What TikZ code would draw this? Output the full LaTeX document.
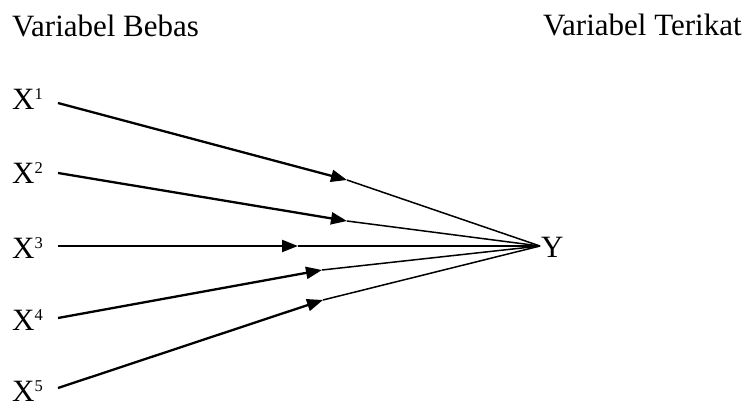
\documentclass[tikz,border=0pt]{standalone}
\usepackage{fontspec}
\setmainfont{Liberation Serif}
\usetikzlibrary{arrows.meta}
\newcommand{\supnum}[1]{\raisebox{10pt}{\fontsize{16.5}{16.5}\selectfont #1}}
\tikzset{
  lbl/.style={inner sep=0pt, anchor=base west, font=\fontsize{31}{36}\selectfont},
  thickln/.style={line width=2.3pt, -{Triangle[length=16pt,width=12pt]}},
  thinln/.style={line width=1.5pt}
}
\begin{document}
\begin{tikzpicture}[x=1pt,y=-1pt]
\useasboundingbox (0,0) rectangle (754,406);
\node[lbl] (vb) at (12,37) {Variabel Bebas};
\node[lbl] (vt) at (543,36) {Variabel Terikat};
\node[lbl] (x1) at (12,110) {X\supnum{1}};
\node[lbl] (x2) at (12,183) {X\supnum{2}};
\node[lbl] (x3) at (12,258) {X\supnum{3}};
\node[lbl] (x4) at (12,330) {X\supnum{4}};
\node[lbl] (x5) at (12,401) {X\supnum{5}};
\node[lbl] (y) at (541,257) {Y};
\coordinate (s1) at (58,103);
\coordinate (s2) at (58,173);
\coordinate (s3) at (58,246);
\coordinate (s4) at (58,318);
\coordinate (s5) at (58,388);
\coordinate (m1) at (347,180);
\coordinate (m2) at (347,221);
\coordinate (m3) at (298,246);
\coordinate (m4) at (322,270);
\coordinate (m5) at (323,300);
\coordinate (j) at (540,246);
\foreach \i in {1,...,5}{
  \draw[thickln] (s\i) -- (m\i);
  \draw[thinln] (m\i) -- (j);
}
\end{tikzpicture}
\end{document}
